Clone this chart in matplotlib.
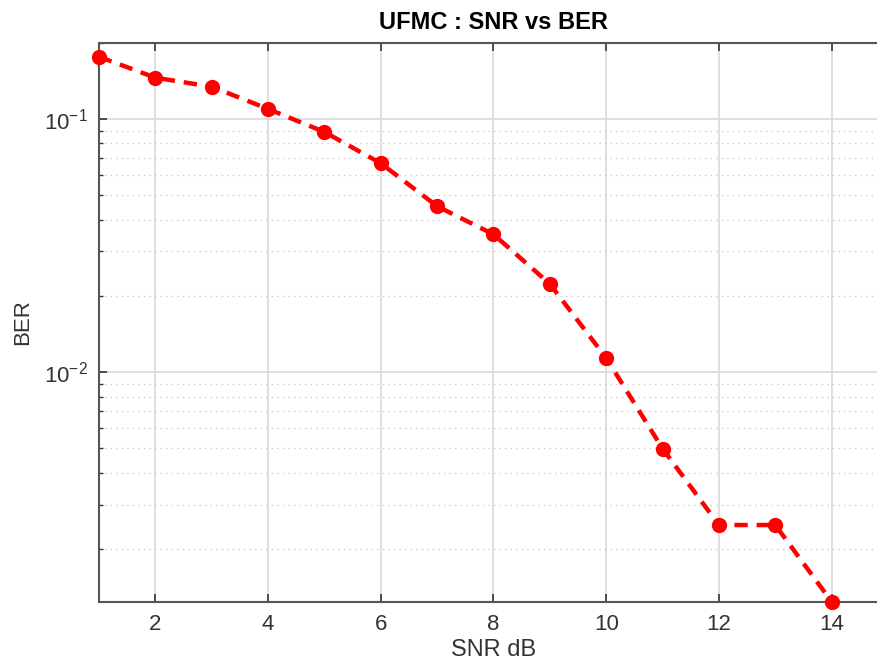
import numpy as np
import matplotlib
matplotlib.use('Agg')
import matplotlib.pyplot as plt
from matplotlib.ticker import LogLocator, NullFormatter

plt.rcParams['font.family'] = ['Liberation Sans', 'DejaVu Sans']
plt.rcParams['axes.unicode_minus'] = False

# data
snr_db = [1, 2, 3, 4, 5, 6, 7, 8, 9, 10, 11, 12, 13, 14]
ber = [0.176, 0.1455, 0.134, 0.1095, 0.0888, 0.0668, 0.0452, 0.035,
       0.0223, 0.01137, 0.00499, 0.00249, 0.00249, 0.00124]
x_ticks = [2, 4, 6, 8, 10, 12, 14]

fig = plt.figure(figsize=(8.78, 6.67), dpi=100)
# right edge of the axes is cut off by the image border in the reference
ax = fig.add_axes([99 / 878, 1 - 601.7 / 667, (888 - 99) / 878, (601.7 - 42.7) / 667])

ax.semilogy(snr_db, ber, color='red', linestyle=(0, (3, 2)), linewidth=3.2,
            marker='o', markersize=10, clip_on=False, zorder=5)

ax.set_xlim(1, 15)
ax.set_ylim(0.00124, 0.2)
ax.set_xticks(x_ticks)
ax.yaxis.set_major_locator(LogLocator(base=10))
ax.yaxis.set_minor_locator(LogLocator(base=10, subs=np.arange(2, 10)))
ax.yaxis.set_minor_formatter(NullFormatter())

ax.grid(True, which='major', color='#d9d9d9', linewidth=1.2, linestyle='-')
ax.grid(True, which='minor', axis='y', color='#cccccc', linewidth=1.0, linestyle=(0, (1, 3)))
ax.set_axisbelow(True)

for s in ax.spines.values():
    s.set_color('#555555')
    s.set_linewidth(1.5)

ax.tick_params(which='both', direction='in', top=True, right=True, colors='#333333',
               labelcolor='#333333', labelsize=16)
ax.tick_params(which='major', length=6, width=1.2)
ax.tick_params(which='minor', length=3, width=1.0)
ax.tick_params(axis='x', pad=9)
ax.tick_params(axis='y', pad=8)

ax.set_title('UFMC : SNR vs BER', fontsize=17, fontweight='bold', pad=10)
ax.set_xlabel('SNR dB', fontsize=17, color='#333333', labelpad=3)
ax.set_ylabel('BER', fontsize=16, color='#333333', labelpad=8)

fig.savefig('out.png', dpi=100)
